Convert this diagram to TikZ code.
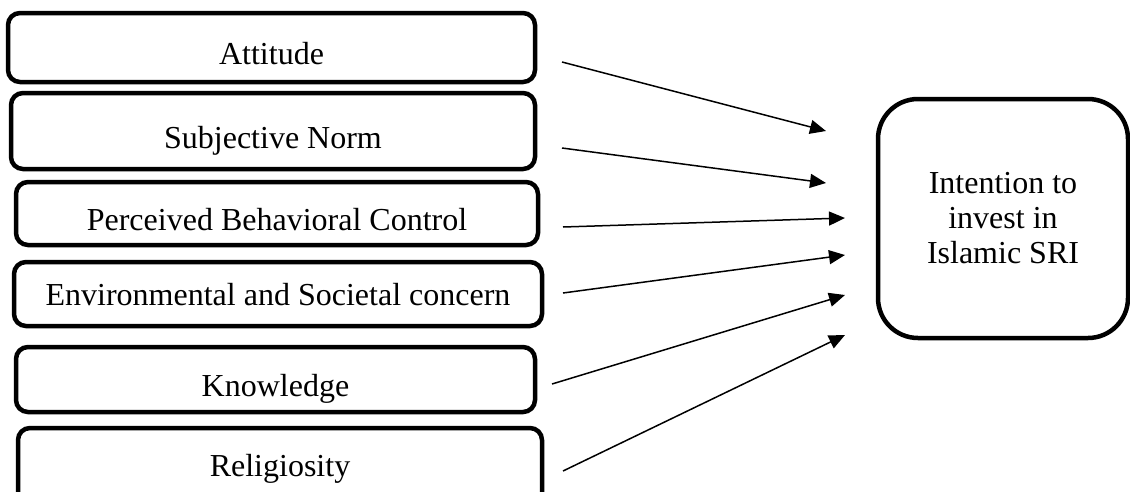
\documentclass[tikz,border=0pt]{standalone}
\usepackage{fontspec}
\setmainfont{Liberation Serif}
\usetikzlibrary{arrows.meta}
\begin{document}
\begin{tikzpicture}[x=1pt,y=-1pt,
  factor/.style={draw, line width=4.5pt, rounded corners=12pt, inner sep=0pt,
    text height=34pt, text depth=0pt, font=\fontsize{32}{36}\selectfont},
  target/.style={draw, line width=4.5pt, rounded corners=40pt, inner sep=0pt,
    align=center, font=\fontsize{32}{35}\selectfont},
  link/.style={line width=1.5pt, -{Triangle[length=16pt,width=14pt]}}]
\clip (0,0) rectangle (1130,491);
\node[factor, minimum width=527pt, minimum height=69pt] (att) at (271.5,47.5) {Attitude};
\node[factor, minimum width=524pt, minimum height=76pt] (sn) at (273,131) {Subjective Norm};
\node[factor, minimum width=522pt, minimum height=63pt] (pbc) at (277,213.5) {Perceived Behavioral Control};
\node[factor, minimum width=528pt, minimum height=64pt, text height=23pt] (env) at (278,294) {Environmental and Societal concern};
\node[factor, minimum width=519pt, minimum height=65pt] (kn) at (275.5,379.5) {Knowledge};
\node[factor, minimum width=524pt, minimum height=80pt, text height=17pt] (rel) at (280,468) {Religiosity};
\node[target, minimum width=250pt, minimum height=239pt] (int) at (1003,218.5)
  {Intention to\\invest in\\Islamic SRI};
\coordinate (s1) at (562,62);  \coordinate (e1) at (826,131);
\coordinate (s2) at (562,148); \coordinate (e2) at (826,183);
\coordinate (s3) at (563,227); \coordinate (e3) at (845,218);
\coordinate (s4) at (563,293); \coordinate (e4) at (845,255);
\coordinate (s5) at (552,384); \coordinate (e5) at (845,295);
\coordinate (s6) at (563,471); \coordinate (e6) at (845,335);
\foreach \i in {1,...,6} \draw[link] (s\i) -- (e\i);
\end{tikzpicture}
\end{document}
